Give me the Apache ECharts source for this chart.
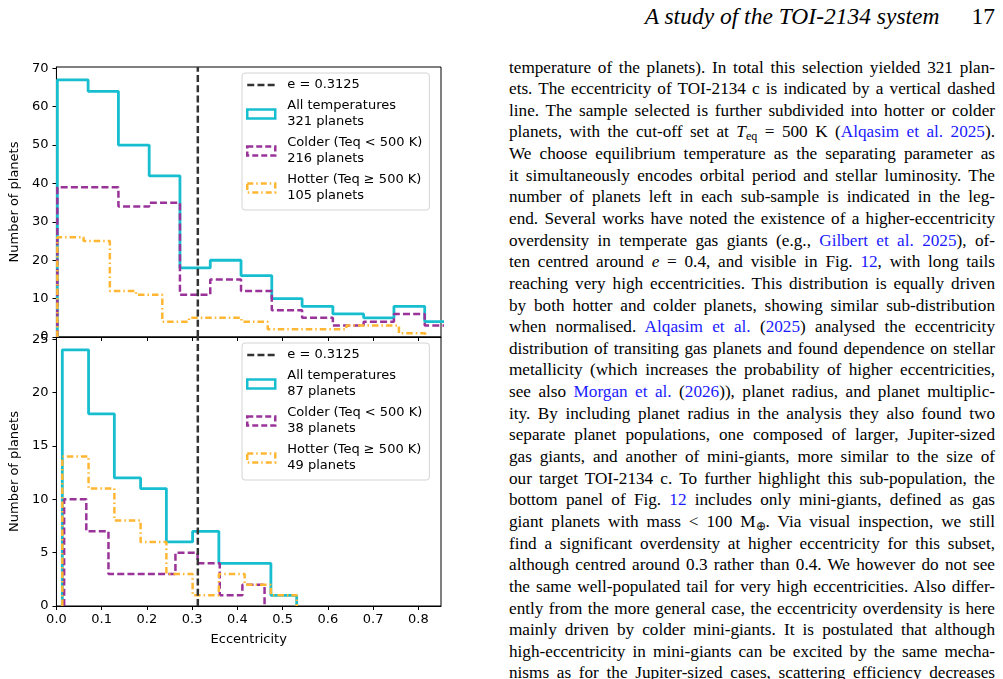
<!DOCTYPE html>
<html>
<head>
<meta charset="utf-8">
<script src="https://cdn.jsdelivr.net/npm/echarts@6/dist/echarts.min.js"></script>
<style>
  html, body { margin: 0; padding: 0; background: #fff; width: 1003px; height: 679px; overflow: hidden; }
  #chart { position: absolute; left: 0; top: 0; width: 470px; height: 679px; }
  #hdr { position: absolute; left: 540px; top: 1px; width: 455px; height: 30px; line-height: 30px;
         font-family: "Liberation Serif", serif; font-size: 23.5px; text-align: right; }
  #hdr span { margin-left: 32px; }
  #page { position: absolute; left: 509px; top: 56.5px; width: 486px;
          font-family: "Liberation Serif", serif; font-size: 17.2px; color: #000; }
  #page div { height: 21.65px; line-height: 21.65px; text-align: justify; text-align-last: justify; white-space: nowrap; }
  #page a { color: #1a1aff; text-decoration: none; }
  sub { font-size: 0.7em; line-height: 0; vertical-align: -0.25em; }
</style>
</head>
<body>
<div id="chart"></div>
<div id="hdr"><i>A study of the TOI-2134 system</i><span>17</span></div>
<div id="page">
  <div>temperature of the planets). In total this selection yielded 321 plan-</div>
  <div>ets. The eccentricity of TOI-2134 c is indicated by a vertical dashed</div>
  <div>line. The sample selected is further subdivided into hotter or colder</div>
  <div>planets, with the cut-off set at <i>T</i><sub>eq</sub> = 500 K (<a>Alqasim et al. 2025</a>).</div>
  <div>We choose equilibrium temperature as the separating parameter as</div>
  <div>it simultaneously encodes orbital period and stellar luminosity. The</div>
  <div>number of planets left in each sub-sample is indicated in the leg-</div>
  <div>end. Several works have noted the existence of a higher-eccentricity</div>
  <div>overdensity in temperate gas giants (e.g., <a>Gilbert et al. 2025</a>), of-</div>
  <div>ten centred around <i>e</i> = 0.4, and visible in Fig. <a>12</a>, with long tails</div>
  <div>reaching very high eccentricities. This distribution is equally driven</div>
  <div>by both hotter and colder planets, showing similar sub-distribution</div>
  <div>when normalised. <a>Alqasim et al.</a> (<a>2025</a>) analysed the eccentricity</div>
  <div>distribution of transiting gas planets and found dependence on stellar</div>
  <div>metallicity (which increases the probability of higher eccentricities,</div>
  <div>see also <a>Morgan et al.</a> (<a>2026</a>)), planet radius, and planet multiplic-</div>
  <div>ity. By including planet radius in the analysis they also found two</div>
  <div>separate planet populations, one composed of larger, Jupiter-sized</div>
  <div>gas giants, and another of mini-giants, more similar to the size of</div>
  <div>our target TOI-2134 c. To further highlight this sub-population, the</div>
  <div>bottom panel of Fig. <a>12</a> includes only mini-giants, defined as gas</div>
  <div>giant planets with mass &lt; 100 M<sub>⊕</sub>. Via visual inspection, we still</div>
  <div>find a significant overdensity at higher eccentricity for this subset,</div>
  <div>although centred around 0.3 rather than 0.4. We however do not see</div>
  <div>the same well-populated tail for very high eccentricities. Also differ-</div>
  <div>ently from the more general case, the eccentricity overdensity is here</div>
  <div>mainly driven by colder mini-giants. It is postulated that although</div>
  <div>high-eccentricity in mini-giants can be excited by the same mecha-</div>
  <div>nisms as for the Jupiter-sized cases, scattering efficiency decreases</div>
</div>
<script>
// eccentricity of TOI-2134 c
const E_C = 0.3125;

// top panel: all gas giants
const topAllEdges = [0.002, 0.070, 0.137, 0.205, 0.273, 0.340, 0.408, 0.476, 0.543, 0.611, 0.679, 0.746, 0.814, 0.882];
const topAll = [67, 64, 50, 42, 18, 20, 16, 10, 8, 6, 5, 8, 4];
const topColdEdges = [0.002, 0.070, 0.137, 0.205, 0.273, 0.340, 0.408, 0.476, 0.543, 0.611, 0.679, 0.746, 0.814, 0.882];
const topCold = [39, 39, 34, 35, 11, 15, 12, 7, 5, 3, 4, 6, 3];
const topHotEdges = [0.002, 0.060, 0.118, 0.176, 0.234, 0.293, 0.351, 0.409, 0.467, 0.525, 0.583, 0.641, 0.699, 0.757, 0.815];
const topHot = [26, 25, 12, 11, 4, 5, 5, 4, 2, 2, 2, 3, 3, 1];

// bottom panel: mini-giants only
const botAllEdges = [0.013, 0.071, 0.128, 0.186, 0.243, 0.301, 0.359, 0.416, 0.474, 0.531];
const botAll = [24, 18, 12, 11, 6, 7, 4, 4, 1];
const botColdEdges = [0.017, 0.066, 0.115, 0.165, 0.214, 0.263, 0.312, 0.361, 0.411, 0.460];
const botCold = [10, 7, 3, 3, 3, 5, 4, 1, 2];
const botHotEdges = [0.013, 0.071, 0.128, 0.186, 0.243, 0.301, 0.359, 0.416, 0.474, 0.531];
const botHot = [14, 11, 8, 6, 3, 1, 3, 2, 1];

const topNames = ['All temperatures\n321 planets', 'Colder (Teq < 500 K)\n216 planets', 'Hotter (Teq \u2265 500 K)\n105 planets'];
const botNames = ['All temperatures\n87 planets', 'Colder (Teq < 500 K)\n38 planets', 'Hotter (Teq \u2265 500 K)\n49 planets'];
const lineName = 'e = 0.3125';

const xTicks = [0, 0.1, 0.2, 0.3, 0.4, 0.5, 0.6, 0.7, 0.8];
const topYTicks = [0, 10, 20, 30, 40, 50, 60, 70];
const botYTicks = [0, 5, 10, 15, 20, 25];
const xMax = 0.85;
const topYMax = 70.35;
const botYMax = 25.2;

const FONT = 'DejaVu Sans';
const CYAN = '#17becf';
const PURPLE = '#993399';
const ORANGE = '#ffb733';
const VLINE = '#333333';

// histogram outline, matplotlib histtype='step' style
function stepData(edges, counts) {
  const pts = [[edges[0], 0]];
  counts.forEach((c, i) => pts.push([edges[i], c]));
  pts.push([edges[edges.length - 1], counts[counts.length - 1]]);
  pts.push([edges[edges.length - 1], 0]);
  return pts;
}

function histSeries(name, idx, edges, counts, color, type, width) {
  return {
    name: name, type: 'line', xAxisIndex: idx, yAxisIndex: idx,
    data: stepData(edges, counts), step: 'end', symbol: 'none', clip: true,
    lineStyle: { color: color, width: width, type: type },
    itemStyle: { color: color },
    silent: true
  };
}

function vlineSeries(idx, ymax) {
  return {
    name: lineName, type: 'line', xAxisIndex: idx, yAxisIndex: idx,
    data: [[E_C, 0], [E_C, ymax]], symbol: 'none',
    lineStyle: { color: VLINE, width: 2.5, type: [7, 3.2] },
    itemStyle: { color: VLINE },
    silent: true
  };
}

function legendFor(names, top) {
  return {
    orient: 'vertical', left: 242, top: top,
    itemWidth: 28, itemHeight: 9, itemGap: 5,
    padding: [4, 7, 6, 4],
    backgroundColor: '#fff', borderColor: '#d4d4d4', borderWidth: 1, borderRadius: 3,
    selectedMode: false,
    textStyle: { fontFamily: FONT, fontSize: 13, color: '#000', lineHeight: 16, padding: [0, 0, 0, 7] },
    data: [
      { name: lineName, itemStyle: { opacity: 0 }, lineStyle: { color: VLINE, width: 2.5, type: [7, 3.2] } },
      { name: names[0], icon: 'rect', itemStyle: { color: 'rgba(0,0,0,0)', borderColor: CYAN, borderWidth: 2.5 } },
      { name: names[1], icon: 'rect', itemStyle: { color: 'rgba(0,0,0,0)', borderColor: PURPLE, borderWidth: 2.5, borderType: [6, 3] } },
      { name: names[2], icon: 'rect', itemStyle: { color: 'rgba(0,0,0,0)', borderColor: ORANGE, borderWidth: 2.5, borderType: [6, 3, 1.5, 3] } }
    ]
  };
}

function xAxisFor(idx, showLabels) {
  return {
    type: 'value', gridIndex: idx, min: 0, max: xMax,
    name: showLabels ? 'Eccentricity' : '', nameLocation: 'middle', nameGap: 27,
    nameTextStyle: { fontFamily: FONT, fontSize: 13, color: '#000' },
    axisLine: { show: true, onZero: false, lineStyle: { color: '#000', width: 1 } },
    axisTick: { show: true, length: 4, customValues: xTicks, lineStyle: { color: '#000' } },
    axisLabel: { show: showLabels, customValues: xTicks, margin: 7, fontFamily: FONT, fontSize: 13, color: '#000',
                 formatter: v => v.toFixed(1) },
    splitLine: { show: false }
  };
}

function yAxisFor(idx, ymax, ticks) {
  return {
    type: 'value', gridIndex: idx, min: 0, max: ymax,
    name: 'Number of planets', nameLocation: 'middle', nameGap: 33,
    nameTextStyle: { fontFamily: FONT, fontSize: 13, color: '#000' },
    axisLine: { show: true, onZero: false, lineStyle: { color: '#000', width: 1 } },
    axisTick: { show: true, length: 4, customValues: ticks, lineStyle: { color: '#000' } },
    axisLabel: { customValues: ticks, margin: 8, fontFamily: FONT, fontSize: 13, color: '#000',
                 formatter: v => String(Math.round(v)) },
    splitLine: { show: false }
  };
}

const chart = echarts.init(document.getElementById('chart'), null, { renderer: 'canvas' });
const option = {
  animation: false,
  backgroundColor: '#fff',
  grid: [
    { left: 54, top: 67, width: 387, height: 270, show: true, borderColor: '#000', borderWidth: 1, containLabel: false },
    { left: 54, top: 337, width: 387, height: 269, show: true, borderColor: '#000', borderWidth: 1, containLabel: false }
  ],
  xAxis: [xAxisFor(0, false), xAxisFor(1, true)],
  yAxis: [yAxisFor(0, topYMax, topYTicks), yAxisFor(1, botYMax, botYTicks)],
  legend: [legendFor(topNames, 73), legendFor(botNames, 343)],
  series: [
    histSeries(topNames[0], 0, topAllEdges, topAll, CYAN, 'solid', 2.8),
    histSeries(topNames[1], 0, topColdEdges, topCold, PURPLE, [7, 3.2], 2.5),
    histSeries(topNames[2], 0, topHotEdges, topHot, ORANGE, [6.5, 3, 1.5, 3], 2.5),
    vlineSeries(0, topYMax),
    histSeries(botNames[0], 1, botAllEdges, botAll, CYAN, 'solid', 2.8),
    histSeries(botNames[1], 1, botColdEdges, botCold, PURPLE, [7, 3.2], 2.5),
    histSeries(botNames[2], 1, botHotEdges, botHot, ORANGE, [6.5, 3, 1.5, 3], 2.5),
    vlineSeries(1, botYMax)
  ]
};
chart.setOption(option);
</script>
</body>
</html>
